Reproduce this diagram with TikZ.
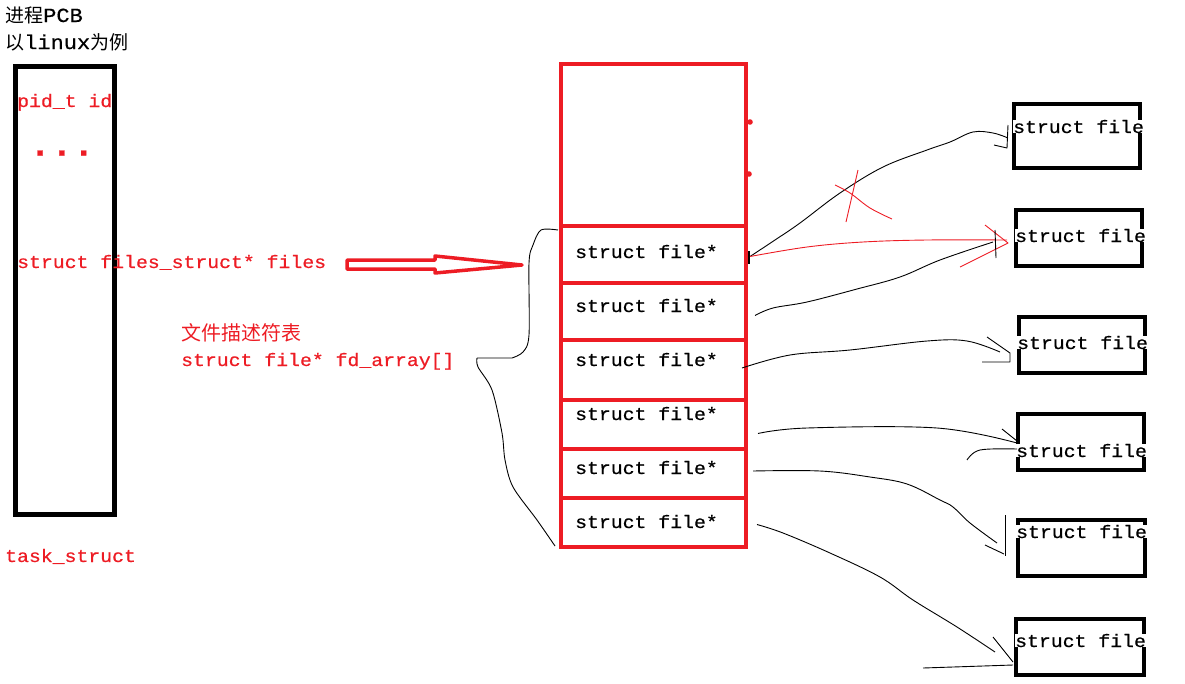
\documentclass[tikz,border=0pt]{standalone}
\usepackage{fontspec}
\setmainfont{Liberation Serif}
\setmonofont[FakeStretch=1.1,FakeBold=0.6]{Liberation Mono}
\newfontfamily\cjk{Noto Sans CJK SC}
\definecolor{pred}{RGB}{237,28,36}
\begin{document}
\begin{tikzpicture}[x=1pt,y=-1pt]
\tikzset{
  pcbbox/.style={draw=black, line width=5pt, anchor=north west, inner sep=0pt, outer sep=0pt},
  tblcell/.style={draw=pred, line width=4pt, anchor=north west, inner sep=0pt, outer sep=0pt, minimum width=185pt},
  filebox/.style={draw=black, line width=4pt, anchor=north west, inner sep=0pt, outer sep=0pt},
  monotxt/.style={font=\ttfamily\fontsize{18}{20}\selectfont, anchor=base west, inner sep=0pt},
  redtxt/.style={monotxt, text=pred},
  blktxt/.style={monotxt, text=black},
  boxtxt/.style={monotxt, text=black, fill=white},
  titletxt/.style={anchor=base west, inner sep=0pt, font=\cjk\fontsize{19}{21}\selectfont},
  hand/.style={draw=black, line width=0.9pt, line join=round},
  redhand/.style={draw=pred, line width=0.9pt, line join=round},
}
\useasboundingbox (0,0) rectangle (1185,683);

% titles
\node[titletxt] (t1) at (5,22) {进程{\ttfamily\fontsize{20}{21}\selectfont PCB}};
\node[titletxt] (t2) at (5,49) {以{\ttfamily\fontsize{20}{21}\selectfont linux}为例};

% task_struct box
\node[pcbbox, minimum width=99pt, minimum height=448pt] (pcb) at (15.5,66.5) {};
\node[redtxt] (pid) at (17,107) {pid\_t id};
\node[redtxt, font=\ttfamily\bfseries\fontsize{33}{35}\selectfont] (dots) at (29,155.5) {...};
\node[redtxt] (files) at (17,268) {struct files\_struct* files};
\node[redtxt] (task) at (5,562) {task\_struct};

% fd table label
\node[anchor=base west, inner sep=0pt, text=pred, font=\cjk\fontsize{20}{22}\selectfont] (fdcn) at (181,340) {文件描述符表};
\node[redtxt] (fdarr) at (181,366) {struct file* fd\_array[]};

% hollow red arrow
\draw[draw=pred, line width=3.5pt, line join=round, line cap=round]
  (347,260) -- (435,260) -- (435,256) -- (522,265) -- (435,273) -- (435,269) -- (347,269) -- cycle;

% table
\node[tblcell, minimum height=162pt] (top) at (561,64) {};
\node[tblcell, minimum height=57pt] (r1) at (561,226) {};
\node[tblcell, minimum height=57pt] (r2) at (561,283) {};
\node[tblcell, minimum height=60pt] (r3) at (561,340) {};
\node[tblcell, minimum height=49pt] (r4) at (561,400) {};
\node[tblcell, minimum height=49pt] (r5) at (561,449) {};
\node[tblcell, minimum height=49pt] (r6) at (561,498) {};
\node[blktxt] (l1) at (575,258) {struct file*};
\node[blktxt] (l2) at (575,312) {struct file*};
\node[blktxt] (l3) at (575,366) {struct file*};
\node[blktxt] (l4) at (575,420) {struct file*};
\node[blktxt] (l5) at (575,474) {struct file*};
\node[blktxt] (l6) at (575,528) {struct file*};
\fill[pred] (750,122) circle (2.8pt);
\fill[pred] (749,174) circle (2.8pt);
\draw[black, line width=2pt] (749,251) -- (749,264);

% brace
\draw[hand] plot[smooth, tension=0.5] coordinates {(558,230) (541,230) (533,245) (529,263) (529,335) (523,352) (512,358)} -- (477,358)
  plot[smooth, tension=0.5] coordinates {(477,358) (478,367) (492,390) (502,433) (505,460) (513,487) (537,520) (555,546)};

% right boxes
\node[filebox, minimum width=126pt, minimum height=64pt] (f1) at (1014,104) {};
\node[filebox, minimum width=126pt, minimum height=56pt] (f2) at (1016,210) {};
\node[filebox, minimum width=126pt, minimum height=56pt] (f3) at (1019,317) {};
\node[filebox, minimum width=126pt, minimum height=56pt] (f4) at (1018,414) {};
\node[filebox, minimum width=127pt, minimum height=56pt] (f5) at (1018,520) {};
\node[filebox, minimum width=128pt, minimum height=56pt] (f6) at (1016,619) {};
\node[boxtxt] (b1) at (1013,133) {struct file};
\node[boxtxt] (b2) at (1015,242) {struct file};
\node[boxtxt] (b3) at (1017,349) {struct file};
\node[boxtxt] (b4) at (1016,457) {struct file};
\node[boxtxt] (b5) at (1016,538) {struct file};
\node[boxtxt] (b6) at (1015,647) {struct file};

% connectors (hand drawn)
\coordinate (s1) at ([shift={(4,2)}]r1.east);
\coordinate (s2) at ([shift={(9,4)}]r2.east);
\coordinate (s4) at ([shift={(12,9)}]r4.east);
\coordinate (s6) at ([shift={(11,2)}]r6.east);
\draw[hand] plot[smooth, tension=0.6] coordinates {(s1) (775,240) (800,223) (840,193) (883,167) (927,150) (950,142) (973,132) (993,133) (1008,138)};
\draw[hand] (1008,125) -- (1007,148) -- (994,145);

\draw[redhand] plot[smooth, tension=0.6] coordinates {(s1) (807,247) (863,242) (927,240) (1007,240)};
\draw[redhand] (985,225) -- (1008,243) -- (960,267);
\draw[redhand] (858,170) -- (846,222);
\draw[redhand] plot[smooth, tension=0.6] coordinates {(835,185) (850,193) (870,208) (892,219)};

\draw[hand] plot[smooth, tension=0.6] coordinates {(s2) (773,308) (807,302) (857,289) (900,277) (940,260) (993,242)};
\draw[hand] (995,230) -- (996,258);

\draw[hand] plot[smooth, tension=0.6] coordinates {(742,368) (790,355) (850,350) (927,341) (967,341) (1000,352)};
\draw[hand] (987,337) -- (1010,353) -- (1010,362) -- (982,362);

\draw[hand] plot[smooth, tension=0.6] coordinates {(s4) (807,428) (937,428) (1017,443)};
\draw[hand] (1002,429) -- (1017,441);
\draw[hand] plot[smooth, tension=0.6] coordinates {(967,460) (980,450) (1017,449)};

\draw[hand] plot[smooth, tension=0.6] coordinates {(753,471) (820,471) (870,477) (907,484) (940,500) (953,507) (970,523) (997,543)};
\draw[hand] (1005,515) -- (1005,556);
\draw[hand] (985,545) -- (1004,554);

\draw[hand] plot[smooth, tension=0.6] coordinates {(s6) (783,533) (830,553) (880,577) (913,600) (957,627) (995,652)};
\draw[hand] (993,637) -- (1013,662);
\draw[hand] (923,668) -- (1013,665);
\end{tikzpicture}
\end{document}
